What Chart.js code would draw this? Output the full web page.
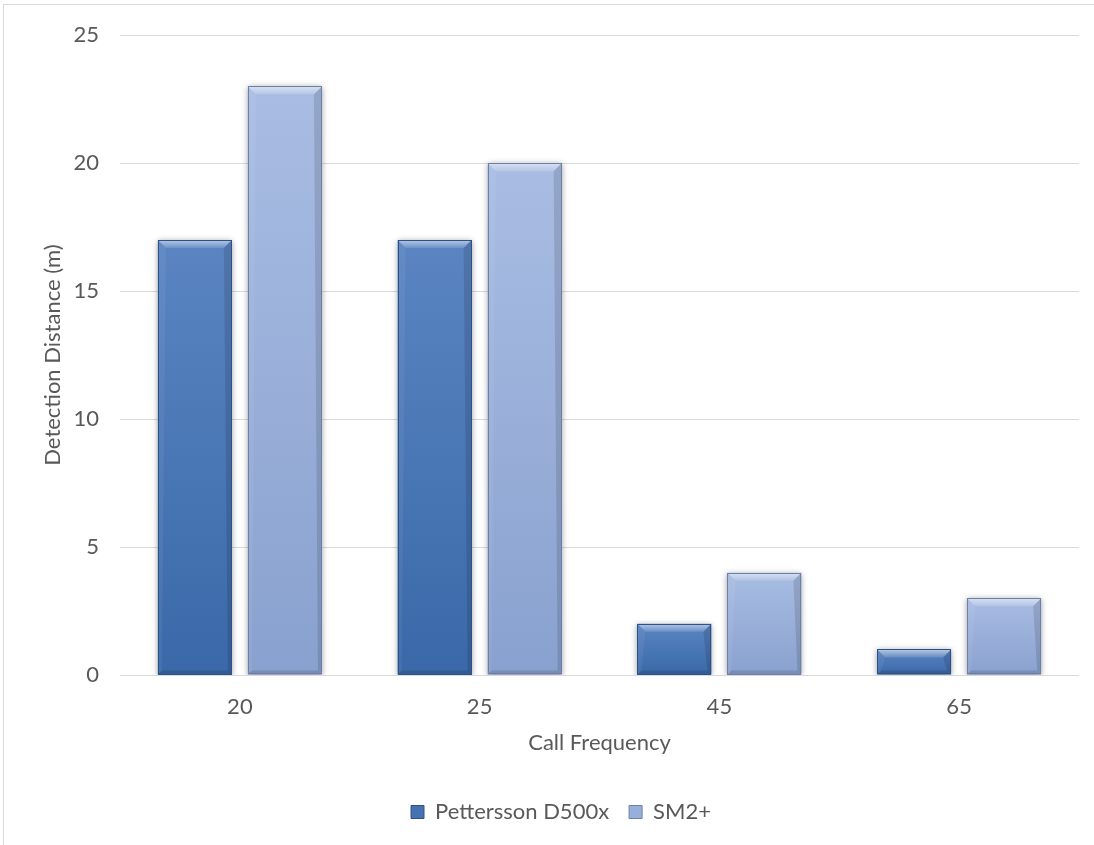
<!DOCTYPE html>
<html>
<head>
<meta charset="utf-8">
<script src="https://cdn.jsdelivr.net/npm/chart.js@4.4.1/dist/chart.umd.min.js"></script>
<style>
  html, body { margin: 0; padding: 0; background: #ffffff; overflow: hidden; }
  #frame {
    position: absolute; left: 3px; top: 4px;
    width: 1114px; height: 860px;
    border: 1px solid #d9d9d9; background: #ffffff;
  }
  #chart { display: block; position: absolute; left: 0; top: -4px; }
</style>
</head>
<body>
<div id="frame"><canvas id="chart" width="1114" height="864"></canvas></div>
<script>
// Detection distance by call frequency for two bat detectors
const categories = ['20', '25', '45', '65'];
const petterssonD500x = [17, 17, 2, 1];
const sm2Plus = [23, 20, 4, 3];
const yTicks = [0, 5, 10, 15, 20, 25];

const seriesNames = ['Pettersson D500x', 'SM2+'];
const darkTop = '#5a85c2', darkBottom = '#3a68a8', darkEdge = '#2f5286';
const lightTop = '#a9bde3', lightBottom = '#89a1cf', lightEdge = '#6c80a8';

const FONT = 'Lato, "Open Sans", sans-serif';
const FONT_SIZE = 22;
const TEXT = '#595959';

// vertical gradient spanning each bar from its top to the zero line
function barFill(top, bottom) {
  return (c) => {
    const chart = c.chart;
    if (!chart.chartArea || c.type !== 'data') return bottom;
    const y = chart.scales.y;
    const yt = y.getPixelForValue(c.raw);
    const yb = y.getPixelForValue(0);
    const g = chart.ctx.createLinearGradient(0, yt, 0, yb);
    g.addColorStop(0, top);
    g.addColorStop(1, bottom);
    return g;
  };
}

// draws an angled bevel (light top facet, shaded sides) inside a rectangle
function bevel(ctx, l, t, r, b, edge) {
  const h = b - t;
  const d = Math.min(8, h / 2, (r - l) / 2);
  const s = Math.min(4, h / 2);
  ctx.save();
  const gt = ctx.createLinearGradient(0, t, 0, t + d);
  gt.addColorStop(0, 'rgba(255,255,255,0.55)');
  gt.addColorStop(1, 'rgba(255,255,255,0.12)');
  ctx.fillStyle = gt;
  ctx.beginPath();
  ctx.moveTo(l, t); ctx.lineTo(r, t); ctx.lineTo(r - d, t + d); ctx.lineTo(l + d, t + d);
  ctx.closePath(); ctx.fill();
  ctx.fillStyle = 'rgba(255,255,255,0.06)';
  ctx.beginPath();
  ctx.moveTo(l, t); ctx.lineTo(l + d, t + d); ctx.lineTo(l + s, b - s); ctx.lineTo(l, b);
  ctx.closePath(); ctx.fill();
  ctx.fillStyle = 'rgba(0,0,0,0.12)';
  ctx.beginPath();
  ctx.moveTo(r, t); ctx.lineTo(r - d, t + d); ctx.lineTo(r - s, b - s); ctx.lineTo(r, b);
  ctx.closePath(); ctx.fill();
  ctx.fillStyle = 'rgba(0,0,0,0.12)';
  ctx.beginPath();
  ctx.moveTo(l, b); ctx.lineTo(l + s, b - s); ctx.lineTo(r - s, b - s); ctx.lineTo(r, b);
  ctx.closePath(); ctx.fill();
  ctx.strokeStyle = edge;
  ctx.lineWidth = 1;
  ctx.strokeRect(Math.round(l) + 0.5, Math.round(t) + 0.5, Math.round(r - l) - 1, Math.round(h) - 1);
  ctx.restore();
}

// soft outer shadow while bars are filled, then the bevel on each bar
const bevelPlugin = {
  id: 'bevel',
  beforeDatasetDraw(chart) {
    const ctx = chart.ctx;
    ctx.save();
    ctx.shadowColor = 'rgba(0,0,0,0.38)';
    ctx.shadowBlur = 6;
    ctx.shadowOffsetX = 0;
    ctx.shadowOffsetY = 1;
  },
  afterDatasetDraw(chart) {
    chart.ctx.restore();
  },
  afterDatasetsDraw(chart) {
    const ctx = chart.ctx;
    chart.data.datasets.forEach((ds, di) => {
      const meta = chart.getDatasetMeta(di);
      meta.data.forEach((el) => {
        const p = el.getProps(['x', 'y', 'base', 'width'], true);
        bevel(ctx, p.x - p.width / 2, Math.min(p.y, p.base), p.x + p.width / 2,
              Math.max(p.y, p.base), di === 0 ? darkEdge : lightEdge);
      });
    });
  }
};

new Chart(document.getElementById('chart'), {
  type: 'bar',
  data: {
    labels: categories,
    datasets: [
      { label: seriesNames[0], data: petterssonD500x, backgroundColor: barFill(darkTop, darkBottom), borderWidth: 0, yAxisID: 'y' },
      { label: seriesNames[1], data: sm2Plus, backgroundColor: barFill(lightTop, lightBottom), borderWidth: 0, yAxisID: 'y' }
    ]
  },
  options: {
    responsive: false,
    animation: false,
    devicePixelRatio: 1,
    categoryPercentage: 0.751,
    barPercentage: 0.822,
    layout: { padding: { top: 30, left: 0, right: 0, bottom: 32 } },
    plugins: {
      tooltip: { enabled: false },
      legend: {
        position: 'bottom',
        labels: {
          font: { family: FONT, size: FONT_SIZE },
          color: TEXT,
          boxWidth: 13,
          boxHeight: 13,
          padding: 20,
          generateLabels(chart) {
            return chart.data.datasets.map((ds, i) => ({
              text: ds.label,
              fillStyle: i === 0 ? '#4672b2' : '#98afdb',
              strokeStyle: i === 0 ? darkEdge : lightEdge,
              lineWidth: 1,
              fontColor: TEXT,
              datasetIndex: i,
              hidden: false
            }));
          }
        }
      }
    },
    scales: {
      x: {
        grid: { display: false, drawTicks: false },
        border: { display: false },
        ticks: { color: TEXT, font: { family: FONT, size: FONT_SIZE }, padding: 19 },
        title: { display: true, text: 'Call Frequency', color: TEXT, font: { family: FONT, size: FONT_SIZE }, padding: 25 },
        afterFit(s) { s.height = 106; }
      },
      y: {
        min: 0, max: 25,
        afterBuildTicks(s) { s.ticks = yTicks.map(v => ({ value: v })); },
        grid: { color: '#d9d9d9', lineWidth: 1, drawTicks: false },
        border: { display: false },
        ticks: { color: TEXT, font: { family: FONT, size: FONT_SIZE }, padding: 21 },
        title: { display: true, text: 'Detection Distance (m)', color: TEXT, font: { family: FONT, size: FONT_SIZE }, padding: 36 },
        afterFit(s) { s.width = 116; }
      },
      gutter: {
        type: 'linear', position: 'right', display: true,
        grid: { display: false }, border: { display: false }, ticks: { display: false },
        afterFit(s) { s.width = 39; }
      }
    }
  },
  plugins: [bevelPlugin]
});
</script>
</body>
</html>
